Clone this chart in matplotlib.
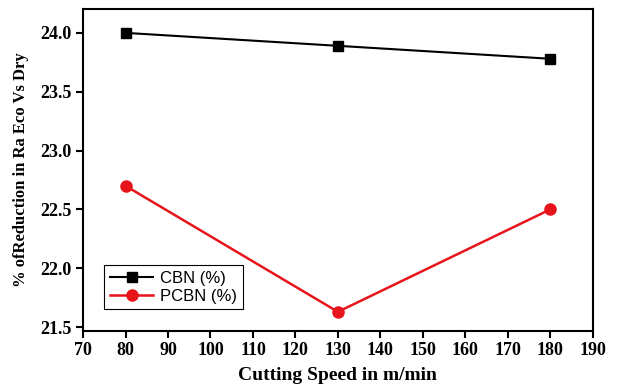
import matplotlib
matplotlib.use("Agg")
import matplotlib.pyplot as plt

# data
speed = [80, 130, 180]
cbn = [24.0, 23.89, 23.78]
pcbn = [22.70, 21.63, 22.50]

fig = plt.figure(figsize=(6.2, 3.89), dpi=100)
ax = fig.add_axes([0.134, 0.150, 0.822, 0.826])

ax.plot(speed, cbn, color="black", marker="s", markersize=7, linewidth=1.5, label="CBN (%)")
ax.plot(speed, pcbn, color="#e8141b", marker="o", markersize=8, linewidth=1.8, label="PCBN (%)")

ax.set_xlim(70, 190)
ax.set_ylim(21.47, 24.2)
ax.set_xticks(range(70, 191, 10))
ax.set_yticks([21.5, 22.0, 22.5, 23.0, 23.5, 24.0])

serif = "Liberation Serif"
for lab in ax.get_xticklabels() + ax.get_yticklabels():
    lab.set_fontfamily(serif)
    lab.set_fontweight("bold")
    lab.set_fontsize(13)
ax.tick_params(direction="out", length=5, width=1.5, pad=3)
for s in ax.spines.values():
    s.set_linewidth(1.5)

ax.set_xlabel("Cutting Speed in m/min", fontfamily=serif, fontweight="bold", fontsize=14, labelpad=6)
ax.set_ylabel("% ofReduction in Ra Eco Vs Dry", fontfamily=serif, fontweight="bold", fontsize=12, labelpad=8)

leg = ax.legend(loc="lower left", bbox_to_anchor=(0.025, 0.04), fancybox=False,
                edgecolor="black", framealpha=1, prop={"family": "Liberation Sans", "size": 12},
                handlelength=2.6, borderpad=0.35, labelspacing=0.15, handletextpad=0.4)
leg.get_frame().set_linewidth(0.8)

fig.savefig("out.png", dpi=100)
